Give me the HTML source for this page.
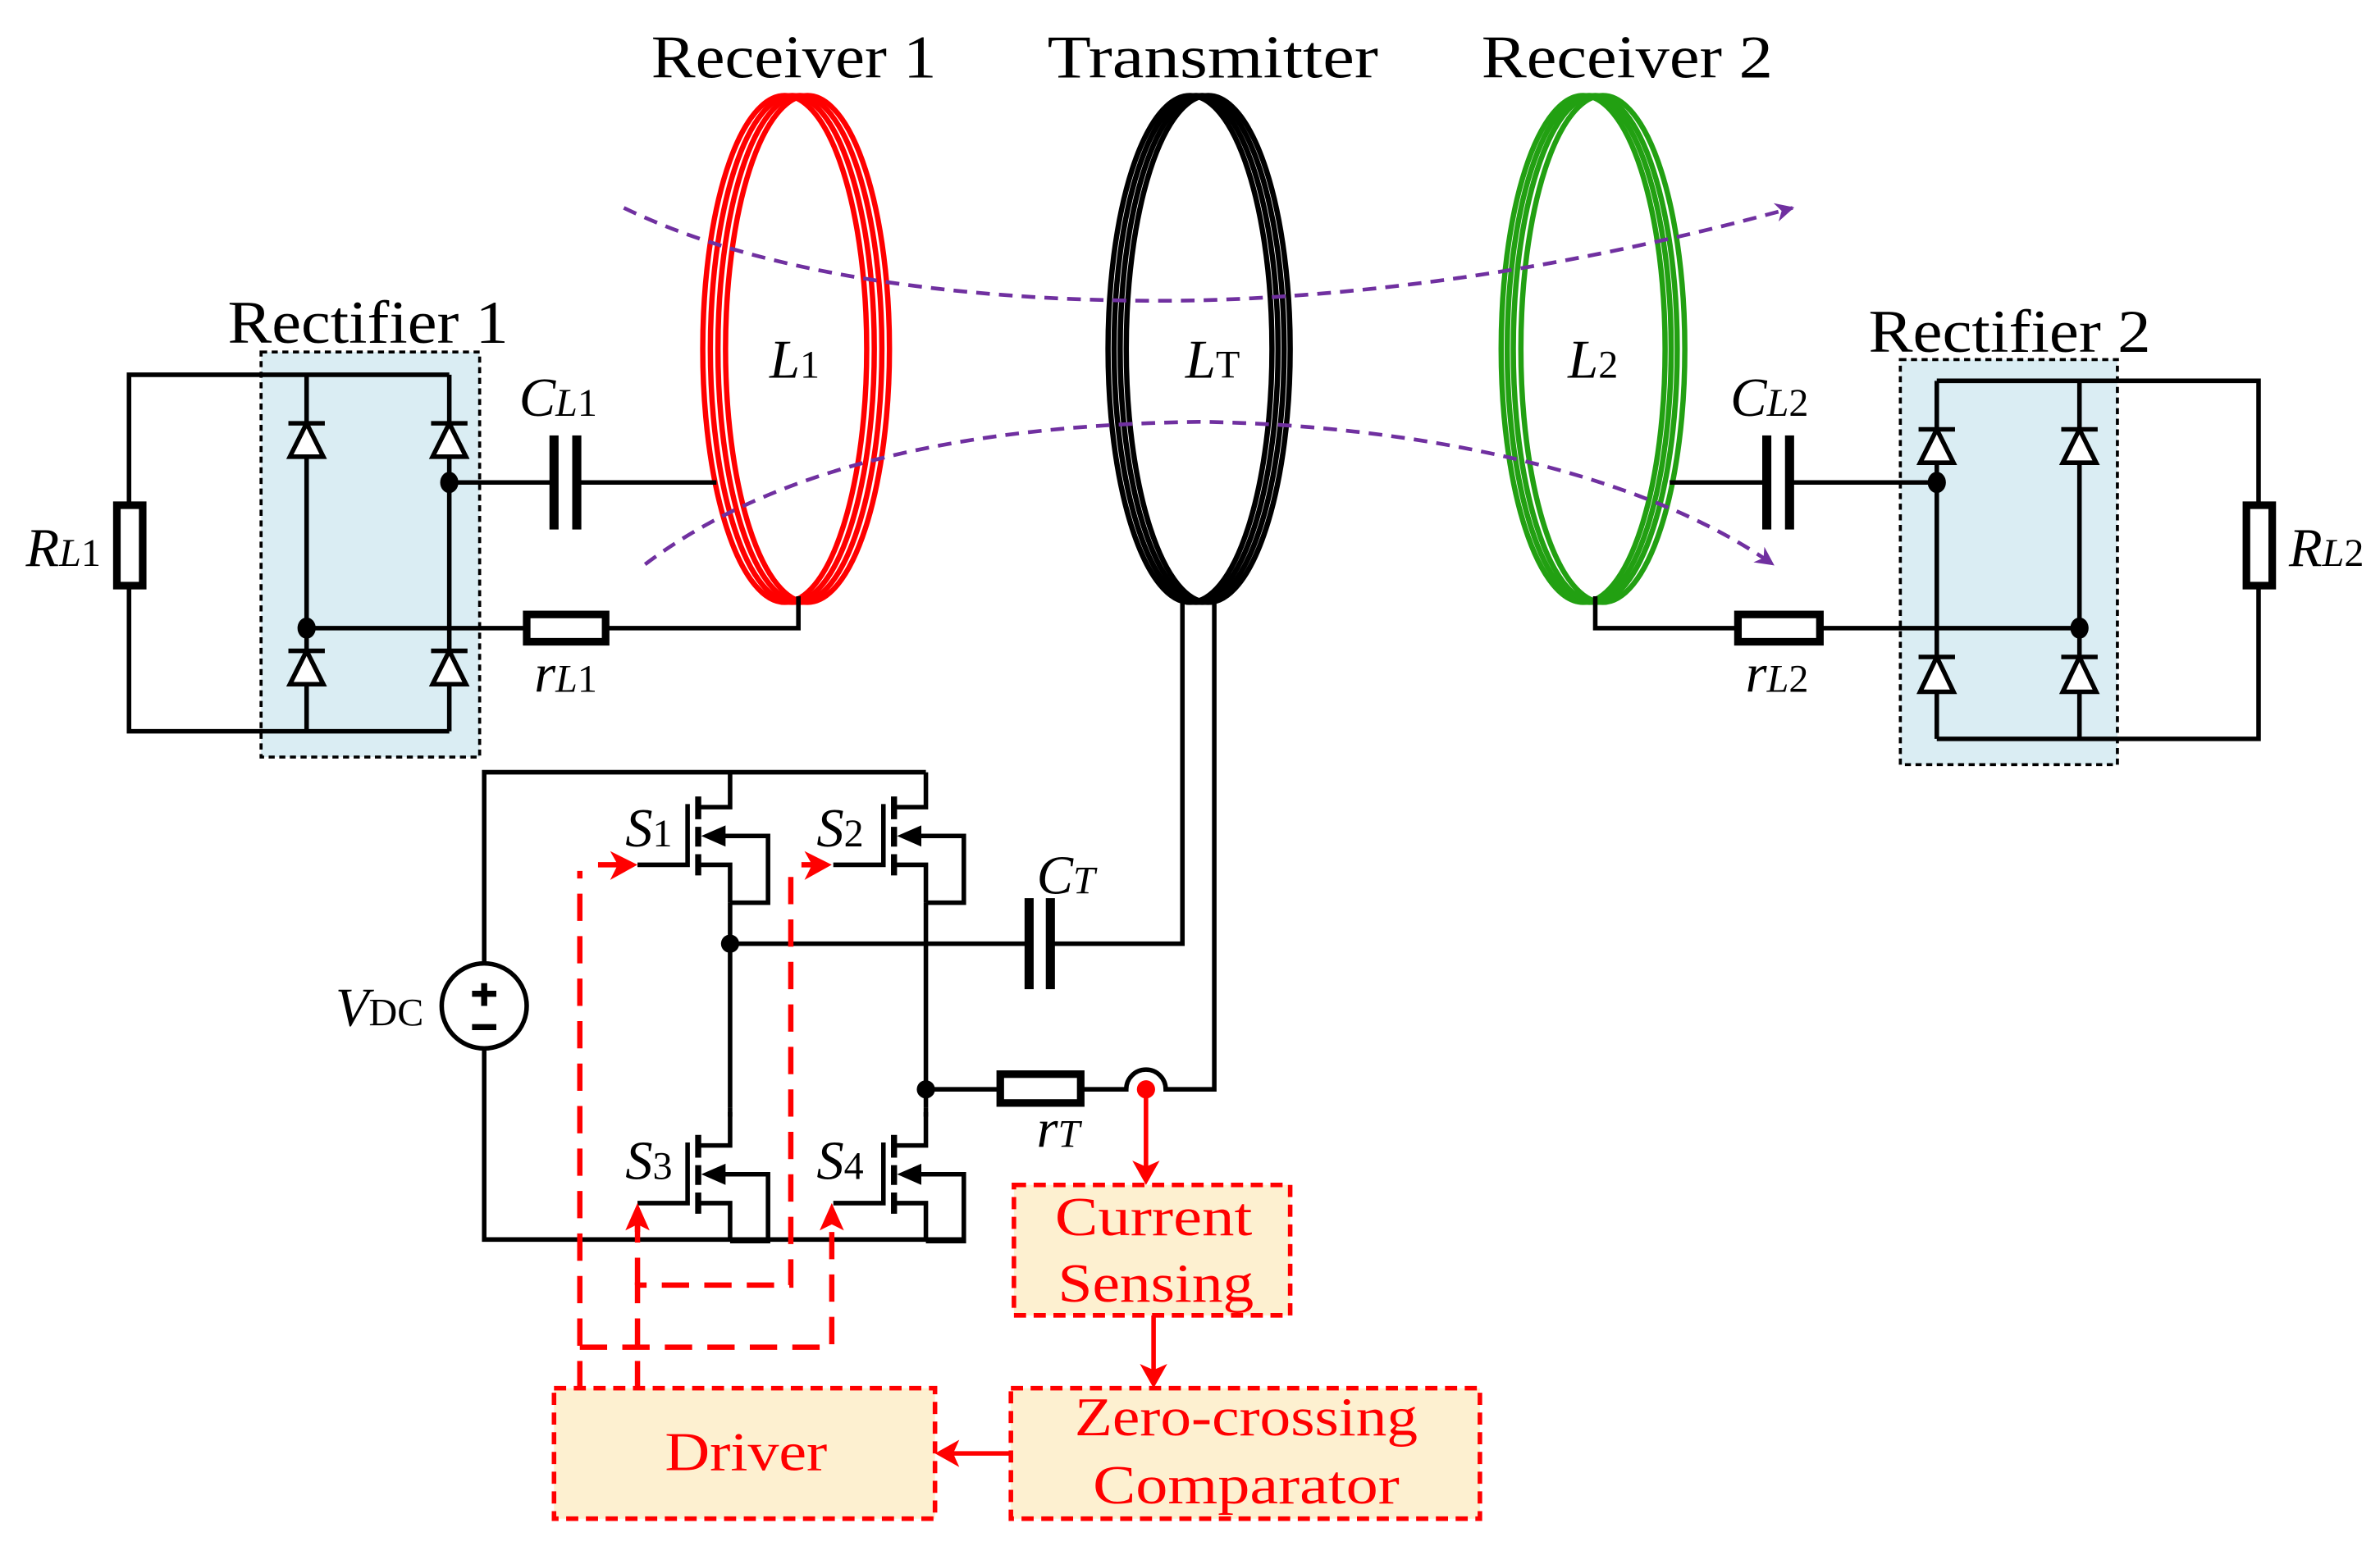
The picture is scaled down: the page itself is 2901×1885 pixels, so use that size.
<!DOCTYPE html>
<html><head><meta charset="utf-8"><style>
html,body{margin:0;padding:0;background:#fff;}
svg{display:block;}
text{font-family:"Liberation Serif",serif;}
</style></head><body>
<svg width="2901" height="1885" viewBox="0 0 1568 1019" preserveAspectRatio="none" xmlns="http://www.w3.org/2000/svg">
<defs>
<marker id="pa" viewBox="0 0 10 10" refX="9" refY="5" markerWidth="5" markerHeight="5" orient="auto"><path d="M0,0 L10,5 L0,10 L3,5 z" fill="#7030a0"/></marker>
</defs>
<rect width="1568" height="1019" fill="#fff"/>

<g font-size="40" fill="#000">
<text x="429" y="51" textLength="188" lengthAdjust="spacingAndGlyphs">Receiver 1</text>
<text x="690" y="51" textLength="218" lengthAdjust="spacingAndGlyphs">Transmitter</text>
<text x="976" y="51" textLength="192" lengthAdjust="spacingAndGlyphs">Receiver 2</text>
<text x="150" y="226" textLength="185" lengthAdjust="spacingAndGlyphs">Rectifier 1</text>
<text x="1231" y="232" textLength="186" lengthAdjust="spacingAndGlyphs">Rectifier 2</text>
</g>

<rect x="172" y="232" width="144" height="267" fill="#daedf3" stroke="#000" stroke-width="2" stroke-dasharray="4,3"/>
<rect x="1252" y="237" width="143" height="267" fill="#daedf3" stroke="#000" stroke-width="2" stroke-dasharray="4,3"/>

<g fill="none" stroke="#ff0000" stroke-width="3.5">
<ellipse cx="517" cy="230" rx="54" ry="167"/><ellipse cx="522" cy="230" rx="54" ry="167"/><ellipse cx="527" cy="230" rx="54" ry="167"/><ellipse cx="532" cy="230" rx="54" ry="167"/>
</g>
<g fill="none" stroke="#000" stroke-width="3.5">
<ellipse cx="784" cy="230" rx="54" ry="167"/><ellipse cx="788" cy="230" rx="54" ry="167"/><ellipse cx="792" cy="230" rx="54" ry="167"/><ellipse cx="796" cy="230" rx="54" ry="167"/>
</g>
<g fill="none" stroke="#22a012" stroke-width="3.5">
<ellipse cx="1043" cy="230" rx="54" ry="167"/><ellipse cx="1047" cy="230" rx="54" ry="167"/><ellipse cx="1051" cy="230" rx="54" ry="167"/><ellipse cx="1056" cy="230" rx="54" ry="167"/>
</g>

<path d="M411,137 C520,190 680,200 790,198 C930,194 1060,170 1181,137" fill="none" stroke="#7030a0" stroke-width="2.5" stroke-dasharray="9,6" marker-end="url(#pa)"/>
<path d="M425,372 C520,300 660,280 790,278 C930,280 1080,310 1168,372" fill="none" stroke="#7030a0" stroke-width="2.5" stroke-dasharray="9,6" marker-end="url(#pa)"/>

<g font-size="36" font-style="italic">
<text x="507" y="249">L<tspan font-size="26" font-style="normal">1</tspan></text>
<text x="781" y="249">L<tspan font-size="26" font-style="normal">T</tspan></text>
<text x="1033" y="249">L<tspan font-size="26" font-style="normal">2</tspan></text>
</g>

<g stroke="#000" stroke-width="3" fill="none">
<path d="M296,247 H85 V331 M85,388 V482 H296 M202,247 V482 M296,247 V482"/>
<path d="M296,318 H365 M380,318 H472"/>
<path d="M202,414 H345 M401,414 H526 V393"/>
</g>
<rect x="77" y="333" width="17" height="53" fill="#fff" stroke="#000" stroke-width="5"/>
<rect x="347" y="405" width="52" height="18" fill="#fff" stroke="#000" stroke-width="5"/>
<rect x="362" y="287" width="6" height="62" fill="#000"/><rect x="377" y="287" width="6" height="62" fill="#000"/>
<g stroke="#000" stroke-width="3" fill="#fff">
<path d="M190,279 H214 M202,279 L191,301 H213 Z"/>
<path d="M284,279 H308 M296,279 L285,301 H307 Z"/>
<path d="M190,429 H214 M202,429 L191,451 H213 Z"/>
<path d="M284,429 H308 M296,429 L285,451 H307 Z"/>
</g>
<ellipse cx="296" cy="318" rx="6" ry="7"/><ellipse cx="202" cy="414" rx="6" ry="7"/>

<g stroke="#000" stroke-width="3" fill="none">
<path d="M1276,251 H1488 V331 M1488,388 V487 H1276 M1276,251 V487 M1370,251 V487"/>
<path d="M1100,318 H1164 M1179,318 H1276"/>
<path d="M1051,393 V414 H1143 M1201,414 H1370"/>
</g>
<rect x="1480" y="333" width="17" height="53" fill="#fff" stroke="#000" stroke-width="5"/>
<rect x="1145" y="405" width="54" height="18" fill="#fff" stroke="#000" stroke-width="5"/>
<rect x="1161" y="287" width="6" height="62" fill="#000"/><rect x="1176" y="287" width="6" height="62" fill="#000"/>
<g stroke="#000" stroke-width="3" fill="#fff">
<path d="M1264,283 H1288 M1276,283 L1265,305 H1287 Z"/>
<path d="M1358,283 H1382 M1370,283 L1359,305 H1381 Z"/>
<path d="M1264,433 H1288 M1276,433 L1265,456 H1287 Z"/>
<path d="M1358,433 H1382 M1370,433 L1359,456 H1381 Z"/>
</g>
<ellipse cx="1276" cy="318" rx="6" ry="7"/><ellipse cx="1370" cy="414" rx="6" ry="7"/>

<g font-size="36" font-style="italic">
<text x="342" y="274">C<tspan font-size="26">L</tspan><tspan font-size="26" font-style="normal">1</tspan></text>
<text x="352" y="456">r<tspan font-size="26">L</tspan><tspan font-size="26" font-style="normal">1</tspan></text>
<text x="17" y="373">R<tspan font-size="26">L</tspan><tspan font-size="26" font-style="normal">1</tspan></text>
<text x="1140" y="274">C<tspan font-size="26">L</tspan><tspan font-size="26" font-style="normal">2</tspan></text>
<text x="1150" y="456">r<tspan font-size="26">L</tspan><tspan font-size="26" font-style="normal">2</tspan></text>
<text x="1508" y="373">R<tspan font-size="26">L</tspan><tspan font-size="26" font-style="normal">2</tspan></text>
<text x="683" y="589">C<tspan font-size="26">T</tspan></text>
<text x="683" y="756">r<tspan font-size="26">T</tspan></text>
<text x="221" y="676">V<tspan font-size="26" font-style="normal">DC</tspan></text>
<text x="412" y="558">S<tspan font-size="26" font-style="normal">1</tspan></text>
<text x="538" y="558">S<tspan font-size="26" font-style="normal">2</tspan></text>
<text x="412" y="777">S<tspan font-size="26" font-style="normal">3</tspan></text>
<text x="538" y="777">S<tspan font-size="26" font-style="normal">4</tspan></text>
</g>

<g stroke="#000" stroke-width="3" fill="none">
<path d="M319,635 V509 H610 M319,691 V817 H635"/>
<path d="M481,595 V732 M610,595 V732"/>
<path d="M481,622 H678 M692,622 H779 V397"/>
<path d="M610,718 H657 M714,718 H742 A13,13 0 0 1 768,718 H800 V397"/>
</g>
<rect x="675" y="592" width="6" height="60" fill="#000"/><rect x="689" y="592" width="6" height="60" fill="#000"/>
<rect x="659" y="708" width="53" height="19" fill="#fff" stroke="#000" stroke-width="5"/>
<circle cx="481" cy="622" r="6"/><circle cx="610" cy="718" r="6"/>
<ellipse cx="319" cy="663" rx="28" ry="28" fill="#fff" stroke="#000" stroke-width="3"/>
<path d="M319,648 V663 M311,655 H327 M311,677 H327" stroke="#000" stroke-width="4"/>

<g id="m">
<g stroke="#000" stroke-width="3" fill="none">
<path d="M420,570 H453 V530"/>
<path d="M460,525 V540 M460,545 V558 M460,563 V577" stroke-width="4"/>
<path d="M460,532 H481 V509"/>
<path d="M460,570 H481 V595"/>
<path d="M475,551 H506 V595 H481"/>
</g>
<path d="M462,551 L478,544 L478,558 Z"/>
</g>
<use href="#m" transform="translate(129,0)"/>
<use href="#m" transform="translate(0,223)"/>
<use href="#m" transform="translate(129,223)"/>
<rect x="460" y="730" width="60" height="3" fill="#fff"/>
<rect x="589" y="730" width="60" height="3" fill="#fff"/>
<path d="M481,730 V736 M610,730 V736" stroke="#000" stroke-width="3"/>

<g stroke="#ff0000" stroke-width="3.5" fill="none" stroke-dasharray="18,10">
<path d="M382,915 V574"/>
<path d="M420,915 V847 H521 V572"/>
<path d="M382,888 H548 V805"/>
<path d="M420,847 V805"/>
</g>
<g stroke="#ff0000" stroke-width="3.5">
<path d="M394,570 H410 M528,570 H538"/>
<path d="M420,812 V805"/>
</g>
<g fill="#ff0000">
<path d="M420,570 L402,561 L407,570 L402,580 Z"/>
<path d="M548,570 L530,561 L535,570 L530,580 Z"/>
<path d="M420,793 L412,811 L420,807 L428,811 Z"/>
<path d="M548,793 L540,811 L548,807 L556,811 Z"/>
</g>

<g fill="#fdf0d0" stroke="#ff0000" stroke-width="3" stroke-dasharray="8,5">
<rect x="668" y="781" width="182" height="86"/>
<rect x="666" y="915" width="309" height="86"/>
<rect x="365" y="915" width="251" height="86"/>
</g>
<circle cx="755" cy="718" r="6" fill="#ff0000"/>
<g stroke="#ff0000" stroke-width="3">
<path d="M755,718 V770 M760,867 V905 M666,958 H628"/>
</g>
<g fill="#ff0000">
<path d="M755,781 L746,765 L755,769 L764,765 Z"/>
<path d="M760,915 L751,899 L760,903 L769,899 Z"/>
<path d="M616,958 L632,949 L628,958 L632,967 Z"/>
</g>
<g font-size="36" fill="#ff0000">
<text x="695" y="814" textLength="130" lengthAdjust="spacingAndGlyphs">Current</text>
<text x="697" y="858" textLength="129" lengthAdjust="spacingAndGlyphs">Sensing</text>
<text x="708" y="946" textLength="226" lengthAdjust="spacingAndGlyphs">Zero-crossing</text>
<text x="720" y="991" textLength="202" lengthAdjust="spacingAndGlyphs">Comparator</text>
<text x="438" y="969" textLength="107" lengthAdjust="spacingAndGlyphs">Driver</text>
</g>
</svg>
</body></html>
